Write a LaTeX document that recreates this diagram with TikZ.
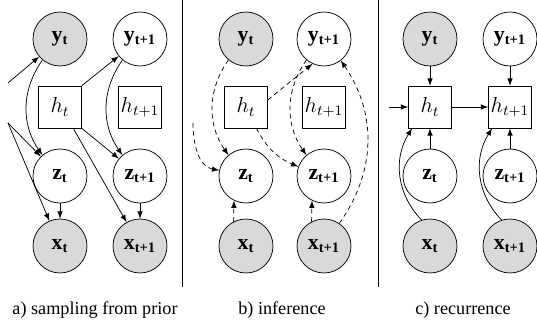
\documentclass[tikz,border=0pt]{standalone}
\usepackage{fontspec}
\setmainfont{LiberationSerif}[
    Extension=.ttf,
    UprightFont=*-Regular,
    BoldFont=*-Bold,
    ItalicFont=*-Italic,
    BoldItalicFont=*-BoldItalic]
\usetikzlibrary{arrows}

\tikzset{
    obs/.style={circle, draw, fill=black!15, minimum size=29.7pt, inner sep=0pt, font=\large},
    lat/.style={circle, draw, fill=white, minimum size=29.7pt, inner sep=0pt, font=\large},
    det/.style={rectangle, draw, fill=white, minimum width=23.6pt, minimum height=23.1pt, inner sep=1pt, font=\large},
    gen/.style={->, >=latex},
    inf/.style={->, >=latex, dash pattern=on 2.5pt off 2pt},
}
\newcommand{\bvar}[2]{\textbf{#1\textsubscript{#2}}}

\begin{document}
\begin{tikzpicture}[x=0.55pt, y=0.55pt]
    \useasboundingbox (0,0) rectangle (537,-332);

    % a) sampling from prior
    \node[obs] (ayt) at (60,-39) {\bvar{y}{t}};
    \node[lat] (ayt1) at (140,-39) {\bvar{y}{t+1}};
    \node[det] (ah) at (60,-107) {$h_t$};
    \node[det] (ah1) at (140,-107) {$h_{t+1}$};
    \node[lat] (azt) at (60,-176) {\bvar{z}{t}};
    \node[lat] (azt1) at (140,-176) {\bvar{z}{t+1}};
    \node[obs] (axt) at (60,-246) {\bvar{x}{t}};
    \node[obs] (axt1) at (140,-246) {\bvar{x}{t+1}};
    \coordinate (ain1) at (8,-83);
    \coordinate (ain2) at (8,-123);
    \draw[gen] (ain1) -- (ayt);
    \draw[gen] (ayt.230) to[bend right=35] (azt.130);
    \draw[gen] (ain2) -- (azt);
    \draw[gen] (ain2) -- (axt);
    \draw[gen] (ah.north east) -- (ayt1);
    \draw[gen] (ah.south east) -- (azt1);
    \draw[gen] (ah.-58) -- (axt1);
    \draw[gen] (ayt1.230) to[bend right=35] (azt1.130);
    \draw[gen] (azt) -- (axt);
    \draw[gen] (azt1) -- (axt1);

    % b) inference
    \node[obs] (byt) at (246,-39) {\bvar{y}{t}};
    \node[lat] (byt1) at (324,-39) {\bvar{y}{t+1}};
    \node[det] (bh) at (246,-107) {$h_t$};
    \node[det] (bh1) at (324,-107) {$h_{t+1}$};
    \node[lat] (bzt) at (246,-176) {\bvar{z}{t}};
    \node[lat] (bzt1) at (324,-176) {\bvar{z}{t+1}};
    \node[obs] (bxt) at (246,-246) {\bvar{x}{t}};
    \node[obs] (bxt1) at (324,-246) {\bvar{x}{t+1}};
    \coordinate (bin) at (193,-123);
    \draw[inf] (byt.230) to[bend right=35] (bzt.130);
    \draw[inf] (bin) to[out=-90, in=170] (bzt.168);
    \draw[inf] (bh.18) -- (byt1.245);
    \draw[inf] (bh.-64) to[bend right=20] (bzt1.160);
    \draw[inf] (byt1.230) to[bend right=35] (bzt1.130);
    \draw[inf] (bxt.117) -- (bzt.244);
    \draw[inf] (bxt1.117) -- (bzt1.244);
    \draw[inf] (bxt1.56) to[bend right=35] (byt1.-52);

    % c) recurrence
    \node[obs] (cyt) at (430,-39) {\bvar{y}{t}};
    \node[lat] (cyt1) at (510,-39) {\bvar{y}{t+1}};
    \node[det] (ch) at (430,-107) {$h_t$};
    \node[det] (ch1) at (510,-107) {$h_{t+1}$};
    \node[lat] (czt) at (430,-176) {\bvar{z}{t}};
    \node[lat] (czt1) at (510,-176) {\bvar{z}{t+1}};
    \node[obs] (cxt) at (430,-246) {\bvar{x}{t}};
    \node[obs] (cxt1) at (510,-246) {\bvar{x}{t+1}};
    \coordinate (cin) at (389,-107);
    \draw[gen] (cyt) -- (ch);
    \draw[gen] (cyt1) -- (ch1);
    \draw[gen] (czt) -- (ch);
    \draw[gen] (czt1) -- (ch1);
    \draw[gen] (cin) -- (ch);
    \draw[gen] (ch) -- (ch1);
    \draw[gen] (cxt.108) to[bend left=38] (ch.230);
    \draw[gen] (cxt1.108) to[bend left=38] (ch1.230);

    \draw (182,0) -- (182,-287);
    \draw (378,0) -- (378,-287);
    \node (capa) at (95,-310) {a) sampling from prior};
    \node (capb) at (282,-310) {b) inference};
    \node (capc) at (463,-310) {c) recurrence};
\end{tikzpicture}
\end{document}
